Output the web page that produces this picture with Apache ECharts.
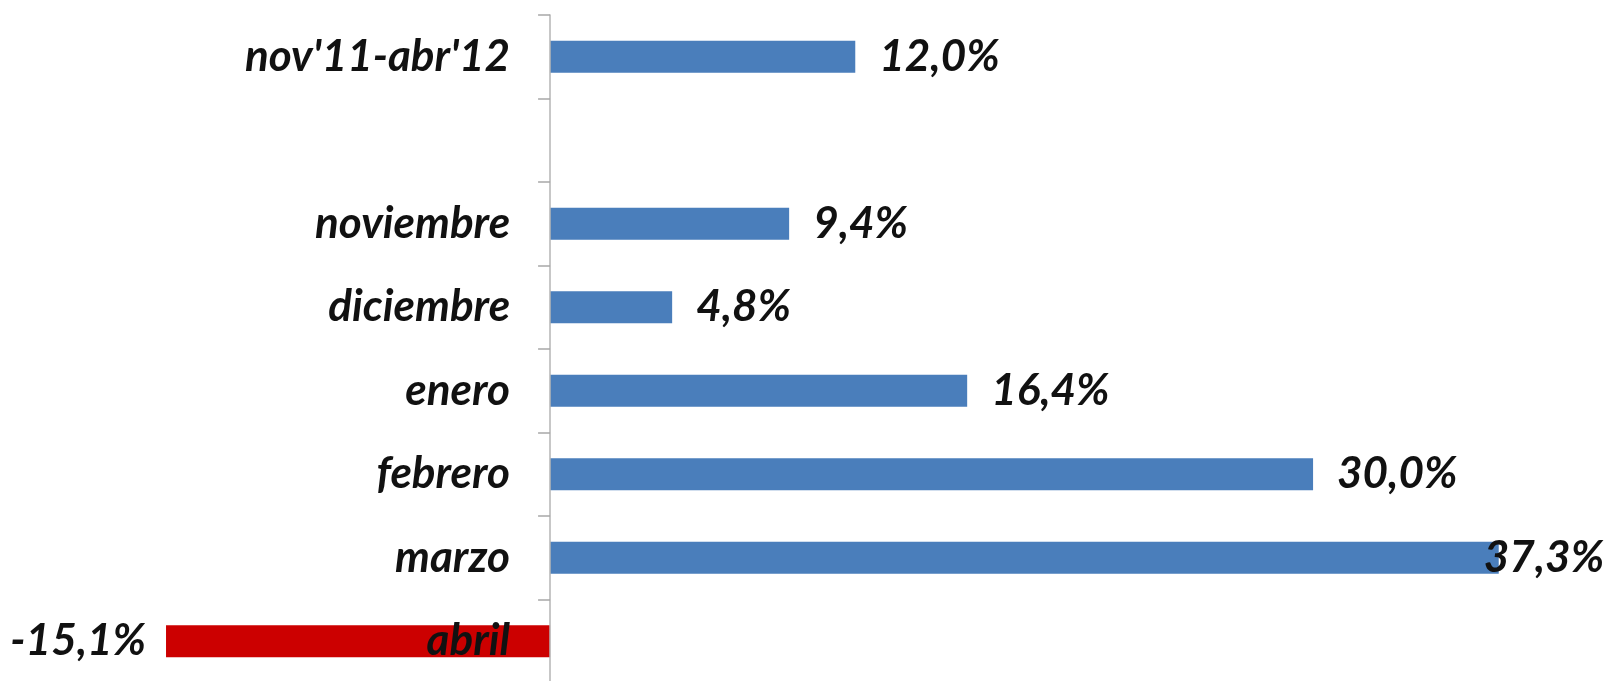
<!DOCTYPE html>
<html>
<head>
<meta charset="utf-8">
<script src="https://cdn.jsdelivr.net/npm/echarts@6/dist/echarts.min.js"></script>
<style>
html,body{margin:0;padding:0;background:#fff;}
#c{width:1606px;height:681px;}
</style>
</head>
<body>
<div id="c"></div>
<script>
const categories = ["nov'11-abr'12", "", "noviembre", "diciembre", "enero", "febrero", "marzo", "abril"];
const values = [12.0, null, 9.4, 4.8, 16.4, 30.0, 37.3, -15.1];
const positiveColor = '#4a7ebb';
const negativeColor = '#cc0000';

const FONT = 'Lato';
const FS = 44;
const fmt = v => v.toFixed(1).replace('.', ',') + '%';

const X_MIN = -20, X_MAX = 40;
const GRID_LEFT = 41.4, GRID_RIGHT = 38.6;
const W = 1606;
const plotW = W - GRID_LEFT - GRID_RIGHT;
const zeroOffset = plotW * (0 - X_MIN) / (X_MAX - X_MIN);

const data = values.map((v, i) => {
  if (v === null) return null;
  const neg = v < 0;
  const isLast = categories[i] === 'marzo';
  return {
    value: v,
    itemStyle: { color: neg ? negativeColor : positiveColor },
    label: {
      position: neg ? 'left' : 'right',
      distance: neg ? 20 : (isLast ? -15 : 24)
    }
  };
});

const chart = echarts.init(document.getElementById('c'), null, { renderer: 'canvas' });
chart.setOption({
  animation: false,
  backgroundColor: '#ffffff',
  grid: { left: GRID_LEFT, right: GRID_RIGHT, top: 15, bottom: -2, containLabel: false, outerBoundsMode: 'none' },
  xAxis: {
    type: 'value', min: X_MIN, max: X_MAX, interval: 10,
    axisLine: { show: false }, axisTick: { show: false }, axisLabel: { show: false },
    splitLine: { show: false }
  },
  yAxis: {
    type: 'category', data: categories, inverse: true, z: 10,
    position: 'left', offset: -zeroOffset,
    axisLine: { show: true, onZero: false, lineStyle: { color: '#b4b4b4', width: 1.5 } },
    axisTick: { show: true, length: 12, alignWithLabel: false, lineStyle: { color: '#a8a8a8', width: 1.5 } },
    axisLabel: {
      margin: 40, color: '#111', fontFamily: FONT, fontStyle: 'italic', fontWeight: 'bold', fontSize: FS
    },
    splitLine: { show: false }
  },
  series: [{
    type: 'bar', data: data, barWidth: 32,
    label: {
      show: true, color: '#111', fontFamily: FONT, fontStyle: 'italic', fontWeight: 'bold', fontSize: FS,
      formatter: p => fmt(p.value)
    }
  }]
});
</script>
</body>
</html>
